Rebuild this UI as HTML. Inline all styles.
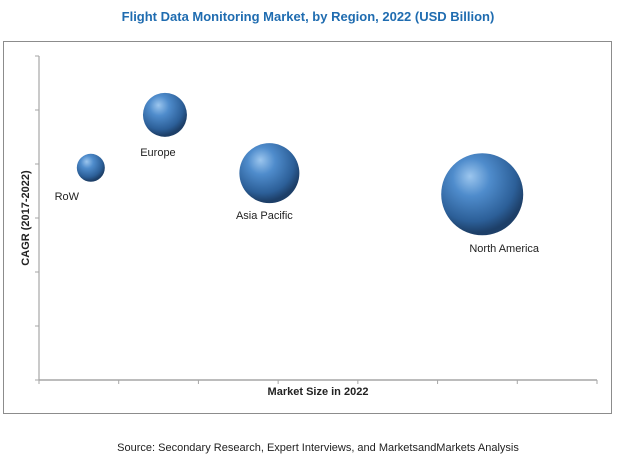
<!DOCTYPE html>
<html><head><meta charset="utf-8"><style>
body{margin:0;background:#fff;width:617px;height:459px;overflow:hidden;font-family:"Liberation Sans",sans-serif}
</style></head><body>
<svg id="chart" width="617" height="459" xmlns="http://www.w3.org/2000/svg">
<defs>
<radialGradient id="ball" cx="40%" cy="32%" r="65%" fx="35%" fy="28%">
<stop offset="0" stop-color="#9cc6ee"/>
<stop offset="0.35" stop-color="#4f8ccc"/>
<stop offset="0.8" stop-color="#2c5f98"/>
<stop offset="1" stop-color="#1d3f68"/>
</radialGradient>
</defs>
<text x="308" y="21" text-anchor="middle" font-size="13" font-weight="bold" fill="#1f6cb0">Flight Data Monitoring Market, by Region, 2022 (USD Billion)</text>
<rect x="3.5" y="41.5" width="608" height="372" fill="none" stroke="#8c8c8c"/>
<g id="axes"></g>
<g id="bubbles"></g>
<text x="318" y="395" text-anchor="middle" font-size="11" font-weight="bold" fill="#222">Market Size in 2022</text>
<text transform="translate(29,218) rotate(-90)" text-anchor="middle" font-size="11" font-weight="bold" fill="#222">CAGR (2017-2022)</text>
<text x="318" y="451" text-anchor="middle" font-size="11" fill="#222">Source: Secondary Research, Expert Interviews, and MarketsandMarkets Analysis</text>
</svg>
<script>
const regions=["RoW","Europe","Asia Pacific","North America"];
const marketSize=[0.65,1.58,2.89,5.56];
const cagr=[3.93,4.91,3.83,3.44];
const bubbleSize=[14,22,30,41];
const xTicks=[0,1,2,3,4,5,6,7];
const yTicks=[0,1,2,3,4,5,6];
const NS="http://www.w3.org/2000/svg";
const x0=39,x1=597,y0=380,y1=56;
const xs=v=>x0+v/7*(x1-x0);
const ys=v=>y0-v/6*(y0-y1);
const ax=document.getElementById('axes');
function mk(t,a,p){const e=document.createElementNS(NS,t);for(const k in a)e.setAttribute(k,a[k]);p.appendChild(e);return e;}
let l=mk('line',{x1:x0,y1:y0,x2:x0,y2:y1,stroke:'#a6a6a6','stroke-width':1.2},ax);


l=mk('line',{x1:x0,y1:y0,x2:x1,y2:y0,stroke:'#a6a6a6','stroke-width':1.5},ax);


yTicks.forEach(v=>{const t=mk('line',{x1:x0-4,y1:ys(v),x2:x0,y2:ys(v),stroke:'#a6a6a6'},ax);

});
xTicks.forEach(v=>{const t=mk('line',{x1:xs(v),y1:y0,x2:xs(v),y2:y0+4,stroke:'#a6a6a6'},ax);

});
const bg=document.getElementById('bubbles');
const labelOff=[[-24,32],[-7,41],[-5,46],[22,58]];
regions.forEach((r,i)=>{
const cx=xs(marketSize[i]),cy=ys(cagr[i]);
const c=mk('circle',{cx:cx,cy:cy,r:bubbleSize[i],fill:'url(#ball)'},bg);


const t=mk('text',{x:cx+labelOff[i][0],y:cy+labelOff[i][1],'text-anchor':'middle','font-size':11,fill:'#222'},bg);
t.textContent=r;


});
</script>
</body></html>
